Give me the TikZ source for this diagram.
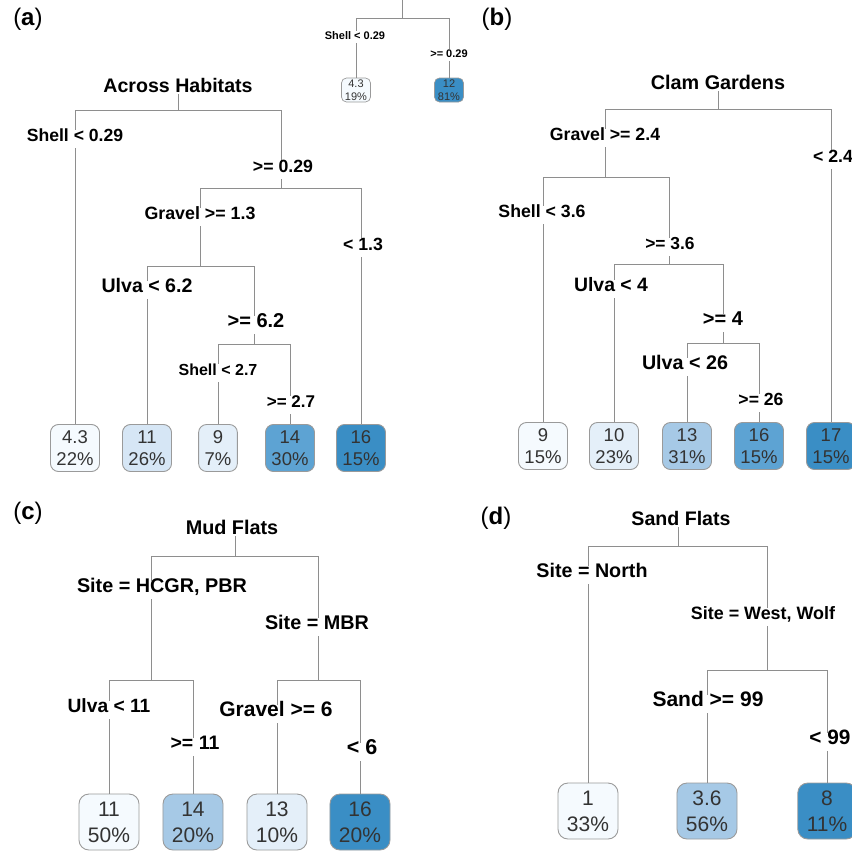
\documentclass[tikz,border=0pt]{standalone}
\usepackage{fontspec}
\setmainfont{Liberation Sans}
\definecolor{edgegray}{HTML}{8E8E8E}
\definecolor{leafline}{HTML}{9A9A9A}
\definecolor{leaftext}{HTML}{333333}
\definecolor{blueI}{HTML}{F5FAFE}
\definecolor{blueII}{HTML}{E4EFF9}
\definecolor{blueIII}{HTML}{D6E6F5}
\definecolor{blueIV}{HTML}{A6C9E6}
\definecolor{blueV}{HTML}{5DA3D3}
\definecolor{blueVI}{HTML}{3A8EC5}
\tikzset{
  branch/.style={draw=edgegray, line width=1pt},
  split/.style={fill=white, inner xsep=2pt, inner ysep=4pt, text height=0.73em, text depth=0.22em,
    font=\fontsize{#1}{#1}\selectfont\bfseries},
  split/.default=17.7,
  leaf/.style={draw=leafline, line width=0.9pt, rounded corners=8pt, align=center, text=leaftext,
    minimum height=47pt, inner xsep=6pt, inner ysep=2pt, font=\fontsize{18.5}{22}\selectfont},
  bigleaf/.style={leaf, minimum height=56pt, inner xsep=9pt, rounded corners=10pt,
    font=\fontsize{21}{26}\selectfont},
  smallleaf/.style={leaf, minimum height=24pt, inner xsep=3.5pt, inner ysep=1pt, rounded corners=5pt,
    line width=0.7pt, font=\fontsize{11}{12.5}\selectfont},
  treetitle/.style={font=\fontsize{#1}{#1}\selectfont\bfseries, inner sep=2pt},
  treetitle/.default=19.7,
  panel/.style={font=\fontsize{24}{24}\selectfont, inner sep=0pt}
}
\begin{document}
\begin{tikzpicture}[x=1pt, y=-1pt]
\useasboundingbox (0,0) rectangle (852,852);

% top inset
\coordinate (topT) at (402,-2);
\coordinate (jT1) at (402,18);
\node[smallleaf, fill=blueI] (leafT1) at (356,90) {4.3\\19\%};
\node[smallleaf, fill=blueVI] (leafT2) at (449,90) {12\\81\%};
\draw[branch] (topT) -- (jT1);
\draw[branch] (jT1) -| (leafT1);
\draw[branch] (jT1) -| (leafT2);
\node[split=11, inner ysep=1.5pt] (sT1) at (355,37) {Shell < 0.29};
\node[split=11, inner ysep=1.5pt] (sT2) at (449,55) {>= 0.29};

% (a) across habitats
\node[panel] (panelA) at (28,19) {(\textbf{a})};
\node[treetitle=19.6] (titleA) at (178,85) {Across Habitats};
\coordinate (jA1) at (178,110);
\coordinate (jA2) at (281,188);
\coordinate (jA3) at (200,266);
\coordinate (jA4) at (254,344);
\foreach \n/\x/\val/\pct/\col in {1/75/4.3/22/blueI, 2/147/11/26/blueIII, 3/218/9/7/blueII, 4/290/14/30/blueV, 5/361/16/15/blueVI}
  \node[leaf, fill=\col] (leafA\n) at (\x,448) {\val\\\pct\%};
\draw[branch] (titleA) -- (jA1);
\draw[branch] (jA1) -| (leafA1);
\draw[branch] (jA1) -| (jA2);
\draw[branch] (jA2) -| (jA3);
\draw[branch] (jA2) -| (leafA5);
\draw[branch] (jA3) -| (leafA2);
\draw[branch] (jA3) -| (jA4);
\draw[branch] (jA4) -| (leafA3);
\draw[branch] (jA4) -| (leafA4);
\node[split=17.6] (sA1) at (75,139) {Shell < 0.29};
\node[split] (sA2) at (283,170) {>= 0.29};
\node[split=17.8] (sA3) at (200,217) {Gravel >= 1.3};
\node[split] (sA4) at (363,248) {< 1.3};
\node[split=19.6] (sA5) at (147,290) {Ulva < 6.2};
\node[split=20] (sA6) at (256,325) {>= 6.2};
\node[split=16] (sA7) at (218,373) {Shell < 2.7};
\node[split=17] (sA8) at (291,405) {>= 2.7};

% (b) clam gardens
\node[panel] (panelB) at (497,19) {(\textbf{b})};
\node[treetitle=19.8] (titleB) at (718,82) {Clam Gardens};
\coordinate (jB1) at (718,109);
\coordinate (jB2) at (605,177);
\coordinate (jB3) at (669,264);
\coordinate (jB4) at (723,343);
\foreach \n/\x/\val/\pct/\col in {1/543/9/15/blueI, 2/614/10/23/blueII, 3/687/13/31/blueIV, 4/759/16/15/blueV, 5/831/17/15/blueVI}
  \node[leaf, fill=\col] (leafB\n) at (\x,446) {\val\\\pct\%};
\draw[branch] (titleB) -- (jB1);
\draw[branch] (jB1) -| (jB2);
\draw[branch] (jB1) -| (leafB5);
\draw[branch] (jB2) -| (leafB1);
\draw[branch] (jB2) -| (jB3);
\draw[branch] (jB3) -| (leafB2);
\draw[branch] (jB3) -| (jB4);
\draw[branch] (jB4) -| (leafB3);
\draw[branch] (jB4) -| (leafB4);
\node[split] (sB1) at (605,138) {Gravel >= 2.4};
\node[split] (sB2) at (833,160) {< 2.4};
\node[split] (sB3) at (542,215) {Shell < 3.6};
\node[split=17.4] (sB4) at (670,247) {>= 3.6};
\node[split=19.4] (sB5) at (611,289) {Ulva < 4};
\node[split=20] (sB6) at (723,323) {>= 4};
\node[split=19.7] (sB7) at (685,367) {Ulva < 26};
\node[split=17.6] (sB8) at (761,403) {>= 26};

% (c) mud flats
\node[panel] (panelC) at (28,513) {(\textbf{c})};
\node[treetitle=19.8] (titleC) at (232,527) {Mud Flats};
\coordinate (jC1) at (235,556);
\coordinate (jC2) at (151,680);
\coordinate (jC3) at (318,680);
\foreach \n/\x/\val/\pct/\col in {1/109/11/50/blueI, 2/193/14/20/blueIV, 3/277/13/10/blueII, 4/360/16/20/blueVI}
  \node[bigleaf, fill=\col] (leafC\n) at (\x,822) {\val\\\pct\%};
\draw[branch] (titleC.south -| jC1) -- (jC1);
\draw[branch] (jC1) -| (jC2);
\draw[branch] (jC1) -| (jC3);
\draw[branch] (jC2) -| (leafC1);
\draw[branch] (jC2) -| (leafC2);
\draw[branch] (jC3) -| (leafC3);
\draw[branch] (jC3) -| (leafC4);
\node[split=19.8] (sC1) at (162,590) {Site = HCGR, PBR};
\node[split=19.8] (sC2) at (317,627) {Site = MBR};
\node[split=19.2] (sC3) at (109,710) {Ulva < 11};
\node[split=19.5] (sC4) at (195,747) {>= 11};
\node[split=21] (sC5) at (276,714) {Gravel >= 6};
\node[split=21.5] (sC6) at (362,752) {< 6};

% (d) sand flats
\node[panel] (panelD) at (496,518) {(\textbf{d})};
\node[treetitle=19.6] (titleD) at (681,518) {Sand Flats};
\coordinate (jD1) at (678,546);
\coordinate (jD2) at (767,670);
\foreach \n/\x/\val/\pct/\col in {1/588/1/33/blueI, 2/707/3.6/56/blueIV, 3/827/8/11/blueVI}
  \node[bigleaf, fill=\col] (leafD\n) at (\x,811) {\val\\\pct\%};
\draw[branch] (titleD.south -| jD1) -- (jD1);
\draw[branch] (jD1) -| (leafD1);
\draw[branch] (jD1) -| (jD2);
\draw[branch] (jD2) -| (leafD2);
\draw[branch] (jD2) -| (leafD3);
\node[split=19.7] (sD1) at (592,575) {Site = North};
\node[split=17.9] (sD2) at (763,617) {Site = West, Wolf};
\node[split=21] (sD3) at (708,704) {Sand >= 99};
\node[split=20.8] (sD4) at (830,742) {< 99};
\end{tikzpicture}
\end{document}
